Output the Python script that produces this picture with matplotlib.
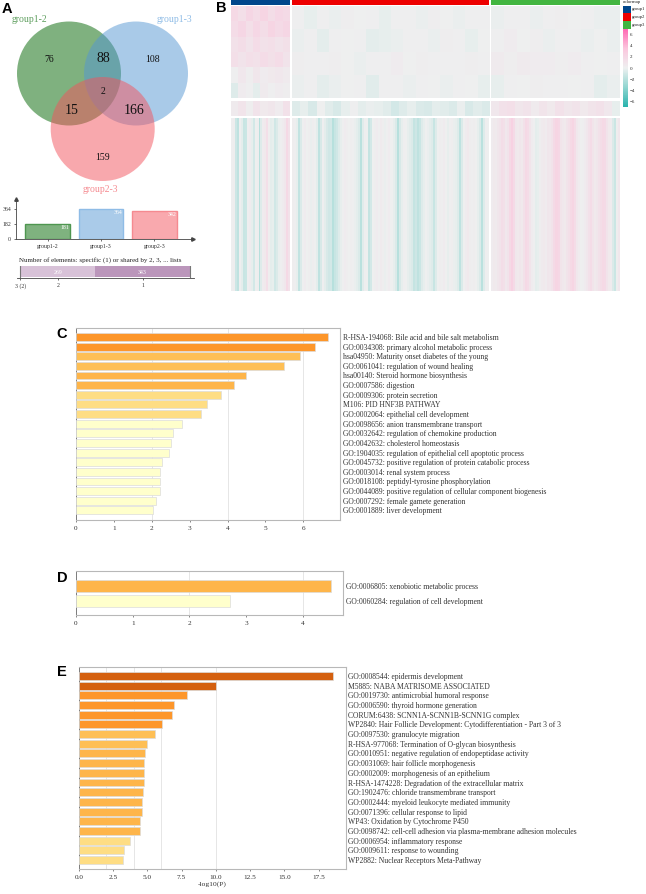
"""Composite figure: Venn diagram, expression heatmap and three enrichment bar panels."""
from __future__ import annotations

import matplotlib

matplotlib.use("Agg")
import matplotlib.pyplot as plt
import numpy as np
from matplotlib.cm import ScalarMappable
from matplotlib.colors import LinearSegmentedColormap, Normalize
from matplotlib.patches import Circle

plt.rcParams["font.family"] = ["Liberation Serif", "DejaVu Serif"]

FIG_W, FIG_H = 646, 894
TEXT_GREY = "#333333"

# panel A
venn_sets = ["group1-2", "group1-3", "group2-3"]
venn_counts = [76, 88, 108, 2, 15, 166, 159]
set_sizes = [181, 364, 342]
set_ticks = [0, 182, 364]
shared_sizes = [2, 269, 343]
shared_labels = ["3 (2)", "2", "1"]

# panel B, estimated per coarse block of the heatmap
top_g1 = [
    [1.6, 1.2, 1.8, 1.4, 1.9, 1.3, 1.7, 1.5],
    [1.4, 1.8, 1.2, 1.7, 1.3, 1.9, 1.5, 1.8],
    [1.0, 1.3, 0.9, 1.4, 1.0, 1.2, 0.9, 1.1],
    [1.2, 0.9, 1.2, 1.0, 1.4, 1.1, 1.4, 0.9],
    [0.1, 0.6, 0.2, 0.7, 0.3, 0.5, 0.6, 0.4],
    [-0.5, 0.3, 0.1, -0.3, 0.4, 0.1, 0.3, 0.2],
]
top_g2 = [
    [0.1, -0.2, 0.1, -0.1, 0.2, 0.0, 0.1, -0.2, 0.1, 0.1, -0.1, 0.2, 0.0, -0.1, 0.1, 0.1],
    [-0.1, 0.1, -0.3, 0.1, 0.0, 0.1, -0.3, -0.2, -0.1, 0.1, 0.1, -0.1, 0.2, 0.1, -0.2, 0.0],
    [0.2, 0.1, 0.1, 0.2, 0.0, -0.1, 0.1, 0.1, 0.3, 0.0, 0.2, 0.1, 0.1, 0.1, 0.2, 0.1],
    [-0.1, 0.1, -0.3, -0.1, 0.0, 0.1, -0.4, 0.1, 0.1, -0.1, 0.1, 0.0, -0.1, 0.1, 0.0, -0.2],
]
top_g3 = [
    [-0.1, 0.1, 0.1, -0.1, 0.1, 0.2, 0.0, 0.1, -0.1, -0.1],
    [0.1, 0.3, 0.0, 0.2, -0.1, 0.1, 0.1, -0.1, 0.0, -0.1],
    [0.4, 0.2, 0.4, 0.3, 0.3, 0.2, 0.3, 0.1, 0.0, 0.1],
    [-0.2, 0.1, 0.0, 0.2, 0.1, 0.1, 0.0, 0.1, -0.3, -0.1],
]
mid_g1 = [[0.4, 0.8, 0.2, 0.9, 0.5, 0.7, 0.3, 1.0]]
mid_g2 = [[-0.5, -0.2, -0.7, 0.0, -0.4, -0.7, -0.2, 0.1, -0.3, -0.1, -0.2, -0.4,
           -0.8, -0.5, -0.2, -0.6, -0.7, -0.3, -0.4, -0.6, -0.1, -0.7, -0.4, -0.6]]
mid_g3 = [[0.6, 1.0, 1.2, 0.7, 0.9, 0.4, 0.8, 0.5, 1.0, 0.7, 0.9, 0.5, 0.8, 1.0, 0.6, -0.2]]
bot_g1 = [[0.1, 0.2, -1.0, -1.5, 0.1, -0.3, -1.2, -1.1, 0.1, 0.3,
           -0.2, -0.8, 0.0, 0.2, -1.7, -0.5, 0.3, 0.5, 1.2, 0.2,
           -0.3, -0.2, -0.9, -0.6, -0.1, 0.1, 0.3, 0.6, 1.6, 1.0]]
bot_g2 = [[0.2, 0.1, -0.2, -1.4, -0.6, 0.1, 0.3, 0.0, 0.2, -0.1,
           0.2, 0.0, -0.3, -1.5, -0.7, 0.1, -0.3, -0.7, -0.9, -0.8,
           -1.7, -1.2, -0.9, -0.5, -0.2, 0.1, 0.3, 0.2, 0.0, 0.2,
           0.1, -0.1, -0.3, -0.6, -1.6, -0.4, 0.1, 0.0, -1.3, -0.8,
           0.0, 0.2, 0.3, 0.1, 0.4, 0.2, -0.1, 0.1, 0.3, 0.0,
           -0.2, -0.6, -1.7, -0.7, -0.2, 0.1, 0.0, -0.2, -0.4, -0.6,
           -1.3, -1.0, -1.5, -1.1, -0.5, -0.2, 0.0, -0.1, -0.3, -0.5,
           -1.2, -0.5, 0.0, 0.2, 0.1, 0.3, 0.0, -0.2, 0.1, 0.2,
           -0.1, -0.2, -0.5, -1.5, -0.6, 0.0, 0.3, 0.5, 0.2, 0.1,
           0.2, 0.0, -0.2, -0.6, -1.6, -0.5, 0.1, 0.0]]
bot_g3 = [[0.3, 0.5, 0.4, 0.7, 0.9, 1.3, 1.1, 0.6, 0.9, 1.6,
           2.2, 1.5, 0.6, 0.5, 0.7, 0.5, 1.0, 1.6, 1.4, 0.8,
           0.3, 0.1, -0.3, -0.2, 0.2, 0.4, 0.5, 0.3, 0.7, 0.6,
           0.9, 1.5, 1.9, 1.7, 0.8, 0.6, 0.5, 0.9, 1.2, 1.6,
           1.9, 1.4, 0.6, 0.3, 0.0, 0.1, 0.3, 0.6, 1.0, 1.4,
           0.8, 0.5, 0.7, 1.0, 1.3, 1.6, 1.5, 0.9, 0.5, 0.3,
           -0.6, -1.1, 0.2, 0.6]]
heat_groups = ["group1", "group2", "group3"]
heat_group_colors = ["#00468b", "#ed0000", "#42b540"]
heat_ticks = [6, 4, 2, 0, -2, -4, -6]

# panel C
c_terms = [
    "R-HSA-194068: Bile acid and bile salt metabolism",
    "GO:0034308: primary alcohol metabolic process",
    "hsa04950: Maturity onset diabetes of the young",
    "GO:0061041: regulation of wound healing",
    "hsa00140: Steroid hormone biosynthesis",
    "GO:0007586: digestion",
    "GO:0009306: protein secretion",
    "M106: PID HNF3B PATHWAY",
    "GO:0002064: epithelial cell development",
    "GO:0098656: anion transmembrane transport",
    "GO:0032642: regulation of chemokine production",
    "GO:0042632: cholesterol homeostasis",
    "GO:1904035: regulation of epithelial cell apoptotic process",
    "GO:0045732: positive regulation of protein catabolic process",
    "GO:0003014: renal system process",
    "GO:0018108: peptidyl-tyrosine phosphorylation",
    "GO:0044089: positive regulation of cellular component biogenesis",
    "GO:0007292: female gamete generation",
    "GO:0001889: liver development",
]
c_values = [6.64, 6.30, 5.91, 5.48, 4.50, 4.16, 3.84, 3.45, 3.29, 2.79,
            2.57, 2.52, 2.46, 2.28, 2.23, 2.22, 2.21, 2.10, 2.04]
c_ticks = [0, 1, 2, 3, 4, 5, 6]

# panel D
d_terms = [
    "GO:0006805: xenobiotic metabolic process",
    "GO:0060284: regulation of cell development",
]
d_values = [4.49, 2.72]
d_ticks = [0, 1, 2, 3, 4]

# panel E
e_terms = [
    "GO:0008544: epidermis development",
    "M5885: NABA MATRISOME ASSOCIATED",
    "GO:0019730: antimicrobial humoral response",
    "GO:0006590: thyroid hormone generation",
    "CORUM:6438: SCNN1A-SCNN1B-SCNN1G complex",
    "WP2840: Hair Follicle Development: Cytodifferentiation - Part 3 of 3",
    "GO:0097530: granulocyte migration",
    "R-HSA-977068: Termination of O-glycan biosynthesis",
    "GO:0010951: negative regulation of endopeptidase activity",
    "GO:0031069: hair follicle morphogenesis",
    "GO:0002009: morphogenesis of an epithelium",
    "R-HSA-1474228: Degradation of the extracellular matrix",
    "GO:1902476: chloride transmembrane transport",
    "GO:0002444: myeloid leukocyte mediated immunity",
    "GO:0071396: cellular response to lipid",
    "WP43: Oxidation by Cytochrome P450",
    "GO:0098742: cell-cell adhesion via plasma-membrane adhesion molecules",
    "GO:0006954: inflammatory response",
    "GO:0009611: response to wounding",
    "WP2882: Nuclear Receptors Meta-Pathway",
]
e_values = [18.57, 10.04, 7.90, 6.98, 6.78, 6.08, 5.59, 5.00, 4.84, 4.79,
            4.74, 4.74, 4.67, 4.60, 4.60, 4.50, 4.45, 3.72, 3.28, 3.21]
e_ticks = [0.0, 2.5, 5.0, 7.5, 10.0, 12.5, 15.0, 17.5]


def pixel_axes(fig, left, top, right, bottom):
    """Axes placed by pixel box, y counted from the top of the image."""
    return fig.add_axes([left / FIG_W, 1 - bottom / FIG_H,
                         (right - left) / FIG_W, (bottom - top) / FIG_H])


def bar_color(value):
    if value >= 10:
        return "#d4600f"
    if value >= 6:
        return "#fd962a"
    if value >= 5:
        return "#febf55"
    if value >= 4:
        return "#feb54a"
    if value >= 3:
        return "#fedd84"
    return "#ffffcc"


def draw_venn(fig):
    ax = pixel_axes(fig, 0, 0, 230, 195)
    ax.set_xlim(0, 230)
    ax.set_ylim(195, 0)
    ax.axis("off")
    circles = [((69, 73.5), "#006500"), ((136, 73.5), "#5597d3"), ((102.7, 129), "#f3535d")]
    for center, color in circles:
        ax.add_patch(Circle(center, 52, facecolor=color, edgecolor="none", alpha=0.5))
    spots = [(49, 59, 7), (103, 59, 10), (153, 59, 7), (103, 92, 7),
             (72, 110, 10), (134, 110, 10), (103, 158, 7)]
    for (x, y, size), count in zip(spots, venn_counts):
        ax.text(x, y, str(count), ha="center", va="center", fontsize=size, color="#111111")
    names = [(29, 19, "#5f9f5f"), (174, 19, "#8fbce6"), (100, 189, "#f58a90")]
    for (x, y, color), name in zip(names, venn_sets):
        ax.text(x, y, name, ha="center", va="center", fontsize=7, color=color)


def draw_set_bars(fig):
    ax = pixel_axes(fig, 16, 199, 193, 239)
    fills = ["#7fb27f", "#aacbe9", "#f9a9ae"]
    edges = ["#4e9650", "#8fbce6", "#f58a90"]
    pos = np.arange(len(venn_sets))
    ax.bar(pos, set_sizes, width=0.84, color=fills, edgecolor=edges, linewidth=1)
    ax.set_xlim(-0.589, 2.72)
    ax.set_ylim(0, 485)
    ax.set_xticks(pos, venn_sets)
    ax.set_yticks(set_ticks)
    ax.tick_params(labelsize=4.2, length=1.5, width=0.5, pad=2, colors="#333333")
    for spine in ("top", "right"):
        ax.spines[spine].set_visible(False)
    for spine in ("left", "bottom"):
        ax.spines[spine].set_linewidth(0.6)
        ax.spines[spine].set_color("#444444")
    ax.plot(1, 0, ">", color="#444444", ms=2.5, transform=ax.transAxes, clip_on=False)
    ax.plot(0, 1, "^", color="#444444", ms=2.5, transform=ax.transAxes, clip_on=False)
    for x, size in zip(pos, set_sizes):
        ax.text(x + 0.32, size - 40, str(size), ha="center", va="center",
                fontsize=4.2, color="white")
    fig.text(100 / FIG_W, 1 - 260 / FIG_H, "Number of elements: specific (1) or shared by 2, 3, ... lists",
             ha="center", va="center", fontsize=5, color="#222222")


def draw_shared_bar(fig):
    ax = pixel_axes(fig, 17, 266, 194, 278)
    scale = sum(shared_sizes) / 170
    ax.set_xlim(-3 * scale, sum(shared_sizes) + 4 * scale)
    ax.set_ylim(0, 1)
    starts = np.cumsum([0] + shared_sizes[:-1])
    colors = ["#7d6a7d", "#d8c2d8", "#bb96bb"]
    ax.barh(0.54, shared_sizes, left=starts, height=0.84, color=colors)
    ax.plot([0, 0], [0.12, 0.96], color="#777777", lw=0.8)
    ax.plot([sum(shared_sizes)] * 2, [0.12, 0.96], color="#777777", lw=0.8)
    for start, size in zip(starts[1:], shared_sizes[1:]):
        ax.text(start + size / 2, 0.5, str(size), ha="center", va="center",
                fontsize=4.2, color="white")
    ax.set_xticks(starts + np.array(shared_sizes) / 2, shared_labels)
    ax.set_yticks([])
    ax.tick_params(labelsize=4.2, length=1.5, width=0.5, pad=2, colors="#333333")
    for spine in ("top", "right", "left"):
        ax.spines[spine].set_visible(False)
    ax.spines["bottom"].set_linewidth(0.6)
    ax.spines["bottom"].set_color("#444444")


def draw_heatmap(fig):
    cmap = LinearSegmentedColormap.from_list(
        "teal_pink", ["#29b3ad", "#8fd5d0", "#eef0f0", "#fbc6dd", "#ff69b4"])
    norm = Normalize(-6, 6)
    cols = [(231, 290), (292, 489), (491, 620)]
    rows = [(6, 98), (101, 116), (118, 291)]
    blocks = [[top_g1, top_g2, top_g3], [mid_g1, mid_g2, mid_g3], [bot_g1, bot_g2, bot_g3]]
    for (top, bottom), row in zip(rows, blocks):
        for (left, right), block in zip(cols, row):
            ax = pixel_axes(fig, left, top, right, bottom)
            ax.imshow(np.array(block), cmap=cmap, norm=norm, aspect="auto", interpolation="nearest")
            ax.axis("off")
    for (left, right), color in zip(cols, heat_group_colors):
        ax = pixel_axes(fig, left, 0, right, 5)
        ax.set_facecolor(color)
        ax.set_xticks([])
        ax.set_yticks([])
        for spine in ax.spines.values():
            spine.set_visible(False)

    fig.text(623 / FIG_W, 1 - 2.5 / FIG_H, "colormap", fontsize=3.5, va="center", color="#222222")
    swatch_tops = [5.5, 13, 21]
    for top, name, color in zip(swatch_tops, heat_groups, heat_group_colors):
        ax = pixel_axes(fig, 623, top, 631, top + 7.5)
        ax.set_facecolor(color)
        ax.set_xticks([])
        ax.set_yticks([])
        for spine in ax.spines.values():
            spine.set_visible(False)
        fig.text(632 / FIG_W, 1 - (top + 3.7) / FIG_H, name, fontsize=3.4, va="center", color="#222222")

    cax = pixel_axes(fig, 623, 29, 628, 107)
    cbar = fig.colorbar(ScalarMappable(norm=Normalize(-7, 7), cmap=cmap), cax=cax)
    cbar.set_ticks(heat_ticks)
    cbar.set_ticklabels([str(t).replace("-", "\u2212") for t in heat_ticks])
    cbar.ax.tick_params(labelsize=3.6, length=0, pad=1.5, colors="#222222")
    cbar.outline.set_visible(False)


def draw_enrichment(fig, box, terms, values, ticks, xmax, ylim, grid, height, xlabel=None, tick_fmt="{:g}"):
    ax = pixel_axes(fig, *box)
    pos = np.arange(len(terms))
    ax.barh(pos, values, height=height, color=[bar_color(v) for v in values],
            edgecolor="#dcdcdc", linewidth=0.5, zorder=3)
    ax.set_xlim(0, xmax)
    ax.set_ylim(*ylim)
    ax.yaxis.tick_right()
    ax.set_yticks(pos, terms)
    ax.set_xticks(ticks, [tick_fmt.format(t) for t in ticks])
    ax.tick_params(axis="y", length=0, pad=2, labelsize=5.5, labelcolor=TEXT_GREY)
    ax.tick_params(axis="x", length=1.5, width=0.5, pad=2.5, labelsize=5.2, labelcolor=TEXT_GREY, color="#555555")
    for value in grid:
        ax.axvline(value, color="#e2e2e2", linewidth=0.6, zorder=1)
    for spine in ("top", "right", "bottom"):
        ax.spines[spine].set_color("#b8b8b8")
        ax.spines[spine].set_linewidth(0.8)
    ax.spines["left"].set_color("#666666")
    ax.spines["left"].set_linewidth(0.6)
    if xlabel:
        ax.set_xlabel(xlabel, fontsize=5.4, labelpad=1.5, color=TEXT_GREY)


def main() -> None:
    fig = plt.figure(figsize=(FIG_W / 100, FIG_H / 100), dpi=100)

    draw_venn(fig)
    draw_set_bars(fig)
    draw_shared_bar(fig)
    draw_heatmap(fig)
    draw_enrichment(fig, (76, 328, 340, 520), c_terms, c_values, c_ticks, 6.97, (19.0, -0.93), [2, 4, 6], 0.82)
    draw_enrichment(fig, (76, 571, 343, 615), d_terms, d_values, d_ticks, 4.71, (1.97, -1.02), [2, 4], 0.82)
    draw_enrichment(fig, (78.7, 666.7, 345.7, 869), e_terms, e_values, e_ticks, 19.47, (19.93, -0.96),
                    [2, 4, 6, 10], 0.82, xlabel="-log10(P)", tick_fmt="{:.1f}")

    letters = [("A", 2, 9), ("B", 216, 8), ("C", 62, 334), ("D", 62, 578), ("E", 62, 672)]
    for letter, x, y in letters:
        fig.text(x / FIG_W, 1 - y / FIG_H, letter, fontsize=10.5, fontweight="bold",
                 family="Liberation Sans", ha="left" if letter in "AB" else "center", va="center")

    fig.savefig("out.png", dpi=100)


if __name__ == "__main__":
    main()
